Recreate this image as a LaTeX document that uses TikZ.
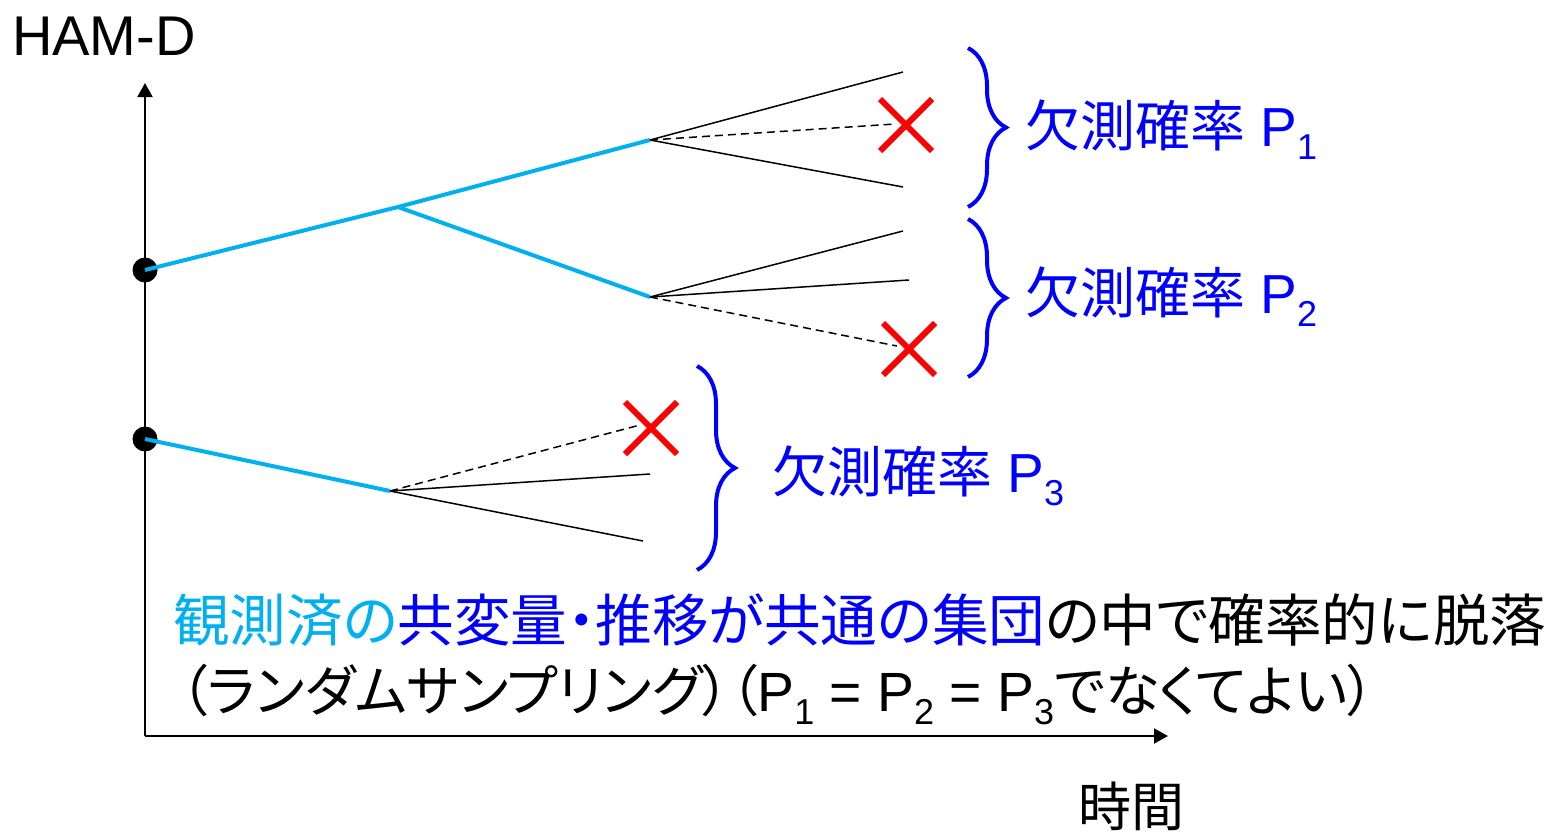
\documentclass[tikz,border=0pt]{standalone}
\usepackage{fontspec}
\setmainfont{Liberation Sans}
\newfontfamily\jp{Noto Sans CJK JP}
\newfontfamily\jpp[RawFeature=+palt]{Noto Sans CJK JP}
\usetikzlibrary{decorations.pathreplacing,arrows.meta}
\definecolor{cyanl}{RGB}{0,176,240}
\definecolor{blu}{RGB}{0,0,255}
\definecolor{rd}{RGB}{255,0,0}
\newcommand{\sbs}[1]{\raisebox{-13pt}{\fontsize{36}{36}\selectfont #1}}
\begin{document}
\begin{tikzpicture}[x=1pt,y=-1pt,
  axis/.style={line width=2pt,-{Triangle[length=14pt,width=15pt]}},
  obs/.style={cyanl,line width=4pt},
  fut/.style={black,line width=1.5pt},
  miss/.style={black,line width=1.5pt,dash pattern=on 8pt off 5pt},
  crossmark/.style={rd,line width=6pt},
  bracestyle/.style={blu,line width=4pt,decorate,decoration={brace,amplitude=38pt,aspect=0.5}},
  dot/.style={circle,fill=black,inner sep=0pt,minimum size=25pt},
  lab/.style={inner sep=0pt,anchor=base west,font=\fontsize{55}{60}\selectfont},
  txt/.style={inner sep=0pt,anchor=base west,font=\fontsize{55}{60}\selectfont}]
\useasboundingbox (0,0) rectangle (1551,833);
% axes
\coordinate (O) at (145,736);
\coordinate (Ytip) at (145,83);
\coordinate (Xtip) at (1168,736);
\draw[axis] (O) -- (Ytip);
\draw[axis] (O) -- (Xtip);
\node[txt,font=\fontsize{56}{60}\selectfont] (ylab) at (12,55) {HAM-D};
\node[txt,font=\fontsize{53}{60}\selectfont] (xlab) at (1078,826) {\jp 時間};
% points
\node[dot] (d1) at (145,270) {};
\node[dot] (d2) at (145,439) {};
\coordinate (a) at (398,207);
\coordinate (b) at (650,140);
\coordinate (c) at (650,297);
\coordinate (e) at (390,491);
\draw[obs] (d1.center) -- (a) -- (b);
\draw[obs] (a) -- (c);
\draw[obs] (d2.center) -- (e);
% branch b
\coordinate (b1) at (903,72);
\coordinate (b2) at (895,124);
\coordinate (b3) at (903,187);
\draw[fut] (b) -- (b1);
\draw[miss] (b) -- (b2);
\draw[fut] (b) -- (b3);
% branch c
\coordinate (c1) at (903,231);
\coordinate (c2) at (909,280);
\coordinate (c3) at (897,346);
\draw[fut] (c) -- (c1);
\draw[fut] (c) -- (c2);
\draw[miss] (c) -- (c3);
% branch e
\coordinate (e1) at (640,425);
\coordinate (e2) at (650,474);
\coordinate (e3) at (643,541);
\draw[miss] (e) -- (e1);
\draw[fut] (e) -- (e2);
\draw[fut] (e) -- (e3);
% crosses
\coordinate (x1) at (906,125);
\coordinate (x2) at (909,349);
\coordinate (x3) at (651,428);
\foreach \p in {x1,x2,x3}{
  \draw[crossmark] ([shift={(-26,-26)}]\p) -- ([shift={(26,26)}]\p);
  \draw[crossmark] ([shift={(-26,26)}]\p) -- ([shift={(26,-26)}]\p);
}
% braces
\coordinate (br1t) at (968,48);
\coordinate (br1b) at (968,207);
\coordinate (br2t) at (968,219);
\coordinate (br2b) at (968,377);
\coordinate (br3t) at (697,366);
\coordinate (br3b) at (697,570);
\draw[bracestyle] (br1t) -- (br1b);
\draw[bracestyle] (br2t) -- (br2b);
\draw[bracestyle] (br3t) -- (br3b);
\node[lab,blu] (l1) at (1025,146) {{\jp 欠測確率} P\sbs{1}};
\node[lab,blu] (l2) at (1025,313) {{\jp 欠測確率} P\sbs{2}};
\node[lab,blu] (l3) at (772,492) {{\jp 欠測確率} P\sbs{3}};
% bottom text
\node[txt,font=\fontsize{56.6}{60}\selectfont] (t1) at (173,641) {\jpp\textcolor{cyanl}{観測済の}\textcolor{blu}{共変量・推移が共通の集団}の中で確率的に脱落};
\node[txt,font=\fontsize{55.3}{60}\selectfont] (t2) at (180,711) {{\jpp （ランダムサンプリング）（}P\sbs{1} = P\sbs{2} = P\sbs{3}{\jpp でなくてよい）}};
\end{tikzpicture}
\end{document}
